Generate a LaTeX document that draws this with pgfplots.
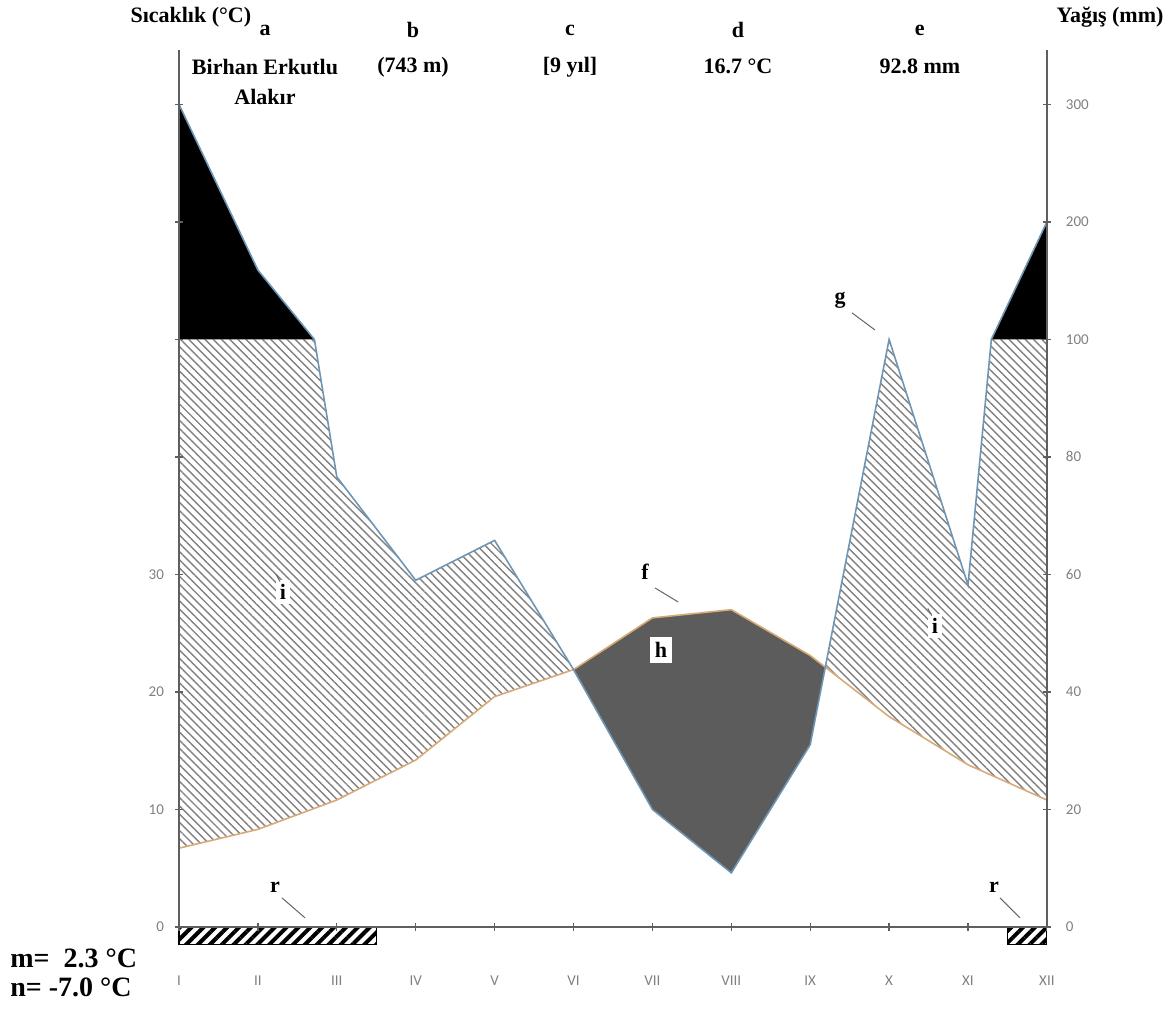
\documentclass[border=0pt]{standalone}
\usepackage{fontspec}
\setmainfont{Liberation Serif}
\newfontfamily\tickfont{Carlito}
\usepackage{pgfplots}
\pgfplotsset{compat=1.18}
\usetikzlibrary{patterns.meta}

\definecolor{precline}{RGB}{110,150,180}
\definecolor{templine}{RGB}{215,170,120}
\definecolor{axgray}{RGB}{95,95,95}
\definecolor{aridgray}{RGB}{92,92,92}

% monthly means; precipitation in display units (mm/2 up to 100 mm, then 100 mm per 10 units)
% P (mm): 300 159 77 59 66 44 20 9 31 100 58 200
\pgfplotsset{
  wl/.style={
    x=39.45pt, y=5.875pt,
    xmin=1, xmax=12, ymin=0, ymax=74.6,
    enlargelimits=false, clip=false,
    /pgf/number format/assume math mode=true,
    tick align=outside, major tick length=4pt,
    tick style={axgray, line width=0.6pt},
    ticklabel style={font=\tickfont\fontsize{7.5}{9}\selectfont, text=gray},
  },
  noarrows/.style={
    axis line style={-, axgray, line width=0.8pt},
    every outer x axis line/.append style={-},
    every outer y axis line/.append style={-},
    every inner x axis line/.append style={-},
    every inner y axis line/.append style={-},
  }
}

\begin{document}
\begin{tikzpicture}
\begin{axis}[wl, at={(0,0)}, anchor=south west,
  axis x line=bottom, axis y line=left, noarrows, axis on top,
  xtick={1,...,12},
  xticklabels={I,II,III,IV,V,VI,VII,VIII,IX,X,XI,XII},
  xticklabel style={yshift=-19pt},
  ytick={0,10,...,70},
  yticklabels={0,10,20,30,,,,},
  yticklabel style={xshift=-2pt},
]
% humid period (hatched), left part
\addplot[draw=none, pattern={Lines[angle=-45,distance=2.9pt,line width=0.7pt]}, pattern color=gray]
  coordinates {(1,6.7) (1,50) (2.716,50) (3,38.3) (4,29.5) (5,32.9) (6,21.9)
               (5,19.6) (4,14.2) (3,10.8) (2,8.3) (1,6.7)} -- cycle;
% humid period (hatched), right part
\addplot[draw=none, pattern={Lines[angle=-45,distance=2.9pt,line width=0.7pt]}, pattern color=gray]
  coordinates {(9.19,22.1) (10,50) (11,29.1) (11.296,50) (12,50) (12,10.8)
               (11,13.8) (10,17.9) (9.19,22.1)} -- cycle;
% arid period
\addplot[draw=none, fill=aridgray]
  coordinates {(6,21.9) (7,10) (8,4.6) (9,15.5) (9.19,22.1) (9,23.1) (8,27.0) (7,26.3) (6,21.9)} -- cycle;
% precipitation above 100 mm
\addplot[draw=none, fill=black]
  coordinates {(1,50) (1,70) (2,55.9) (2.716,50)} -- cycle;
\addplot[draw=none, fill=black]
  coordinates {(11.296,50) (12,60) (12,50)} -- cycle;
% frost months
\addplot[draw=black, line width=0.6pt, pattern={Lines[angle=45,distance=4.2pt,line width=2pt]}]
  coordinates {(1,0) (1,-1.5) (3.5,-1.5) (3.5,0)} -- cycle;
\addplot[draw=black, line width=0.6pt, pattern={Lines[angle=45,distance=4.2pt,line width=2pt]}]
  coordinates {(11.5,0) (11.5,-1.5) (12,-1.5) (12,0)} -- cycle;
% temperature curve
\addplot[templine, line width=0.8pt]
  coordinates {(1,6.7) (2,8.3) (3,10.8) (4,14.2) (5,19.6) (6,21.9) (7,26.3)
               (8,27.0) (9,23.1) (10,17.9) (11,13.8) (12,10.8)};
% precipitation curve
\addplot[precline, line width=0.8pt]
  coordinates {(1,70) (2,55.9) (2.716,50) (3,38.3) (4,29.5) (5,32.9) (6,21.9)
               (7,10) (8,4.6) (9,15.5) (10,50) (11,29.1) (11.296,50) (12,60)};

% annotations
\begin{scope}[every node/.style={font=\bfseries\fontsize{11}{13}\selectfont, inner sep=1pt}]
\node at (axis cs:1.15,77.4) {Sıcaklık (°C)};
\node at (axis cs:12.8,77.4) {Yağış (mm)};
\node at (axis cs:2.09,76.3) {a};
\node at (axis cs:3.966,76.3) {b};
\node at (axis cs:5.956,76.3) {c};
\node at (axis cs:8.085,76.3) {d};
\node at (axis cs:10.39,76.3) {e};
\node at (axis cs:2.09,73.2) {Birhan Erkutlu};
\node at (axis cs:2.09,70.6) {Alakır};
\node at (axis cs:3.966,73.2) {(743 m)};
\node at (axis cs:5.956,73.2) {[9 yıl]};
\node at (axis cs:8.085,73.2) {16.7 °C};
\node at (axis cs:10.39,73.2) {92.8 mm};
\node at (axis cs:6.906,30.2) {f};
\node at (axis cs:9.378,53.36) {g};
\node[fill=white, inner sep=2.5pt] at (axis cs:7.109,23.57) {h};
\node[fill=white, inner sep=2pt] at (axis cs:2.318,28.5) {i};
\node[fill=white, inner sep=2pt] at (axis cs:10.58,25.6) {i};
\node at (axis cs:2.217,3.4) {r};
\node at (axis cs:11.33,3.4) {r};
\end{scope}
\draw[gray!80!black, line width=0.5pt] (axis cs:7.033,28.85) -- (axis cs:7.325,27.66);
\draw[gray!80!black, line width=0.5pt] (axis cs:9.53,52.26) -- (axis cs:9.82,50.81);
\draw[gray!80!black, line width=0.5pt] (axis cs:2.305,2.47) -- (axis cs:2.597,0.77);
\draw[gray!80!black, line width=0.5pt] (axis cs:11.405,2.47) -- (axis cs:11.66,0.77);
\draw[gray!80!black, line width=0.5pt] (axis cs:2.23,30.0) -- (axis cs:2.28,29.4);
\draw[gray!80!black, line width=0.5pt] (axis cs:10.49,27.1) -- (axis cs:10.54,26.5);
\node[anchor=west, font=\bfseries\fontsize{14}{16}\selectfont, inner sep=0pt] at (axis cs:-1.142,-2.64) {m=\ \ 2.3 °C};
\node[anchor=west, font=\bfseries\fontsize{14}{16}\selectfont, inner sep=0pt] at (axis cs:-1.142,-5.19) {n= -7.0 °C};
\path (axis cs:-1.269,78.89) (axis cs:13.535,-7.234);
\end{axis}

\begin{axis}[wl, at={(0,0)}, anchor=south west,
  axis y line=right, axis x line=none, noarrows,
  ytick={0,10,...,70},
  yticklabels={0,20,40,60,80,100,200,300},
  yticklabel style={xshift=4pt},
]
\addplot[draw=none] coordinates {(1,0)};
\end{axis}
\end{tikzpicture}
\end{document}
